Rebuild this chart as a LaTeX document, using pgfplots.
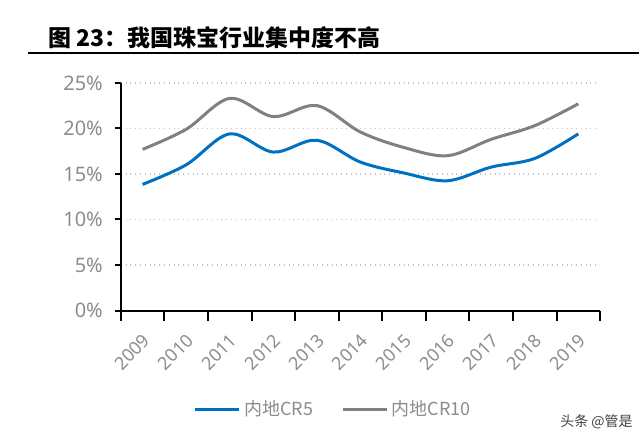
\documentclass[border=0pt]{standalone}
\usepackage{pgfplots}
\pgfplotsset{compat=1.18}
\usepackage{fontspec}
\setmainfont{Noto Sans}
\newfontfamily\cjk{Noto Sans CJK SC}
\definecolor{cblue}{RGB}{0,112,192}
\definecolor{cgray}{RGB}{128,128,128}
\definecolor{tgray}{RGB}{140,140,140}
\definecolor{ggray}{RGB}{195,195,195}
\begin{document}
\begin{tikzpicture}
\path (0,0) rectangle (320pt,222.5pt);
\node[anchor=base west, inner sep=0pt, font=\cjk\bfseries\fontsize{11.5}{13}\selectfont] at (24pt,199pt) {图 23：我国珠宝行业集中度不高};
\draw[line width=1pt] (14pt,196pt) -- (320pt,196pt);
\node[anchor=base east, inner sep=0pt, font=\cjk\fontsize{7}{8}\selectfont, text=black!75] at (317pt,9pt) {头条 @管是};
\begin{axis}[
  at={(60.5pt,67pt)}, anchor=south west,
  scale only axis, width=240pt, height=114pt,
  xmin=0, xmax=11, ymin=0, ymax=25,
  axis x line=bottom, axis y line=left,
  axis line style={line width=1pt, -},
  xtick={0.5,1.5,...,10.5},
  xticklabels={2009,2010,2011,2012,2013,2014,2015,2016,2017,2018,2019},
  major x tick style={draw=none},
  minor xtick={0,1,...,11},
  minor tick length=5pt,
  major tick length=3pt,
  tick align=outside,
  tick style={black, line width=1pt},
  ytick={0,5,...,25},
  yticklabels={0\%,5\%,10\%,15\%,20\%,25\%},
  ymajorgrids,
  grid style={ggray, dotted, line width=0.8pt},
  tick label style={text=tgray, font=\fontsize{9}{10}\selectfont},
  /pgf/number format/assume math mode=true,
  xticklabel style={rotate=45, anchor=north east, xshift=-2.5pt, yshift=-2pt},
  yticklabel style={xshift=-2.5pt, font=\fontsize{10}{11}\selectfont},
  legend style={at={(0.445,-0.435)}, anchor=center, draw=none, legend columns=2,
    font=\cjk\fontsize{9}{10}\selectfont, text=tgray,
    /tikz/every even column/.append style={column sep=12pt}},
  legend image code/.code={\draw[#1, line width=1.5pt] (0pt,0pt) -- (22pt,0pt);},
  clip=false,
]
\addplot[cblue, line width=1.5pt, smooth, tension=0.55] coordinates {
(0.5,13.85) (1.5,16.0) (2.5,19.4) (3.5,17.4) (4.5,18.7) (5.5,16.3) (6.5,15.1) (7.5,14.25) (8.5,15.75) (9.5,16.7) (10.5,19.4)};
\addlegendentry{内地CR5}
\addplot[cgray, line width=1.5pt, smooth, tension=0.55] coordinates {
(0.5,17.7) (1.5,19.9) (2.5,23.3) (3.5,21.3) (4.5,22.5) (5.5,19.6) (6.5,17.9) (7.5,17.0) (8.5,18.8) (9.5,20.3) (10.5,22.7)};
\addlegendentry{内地CR10}
\end{axis}
\end{tikzpicture}
\end{document}
